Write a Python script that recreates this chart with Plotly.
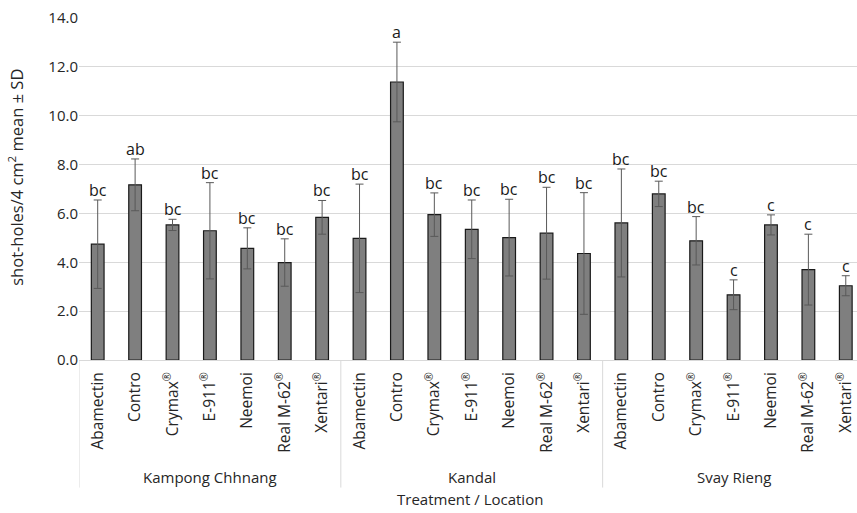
import plotly.graph_objects as go

locations = ["Kampong Chhnang", "Kandal", "Svay Rieng"]
treatments = ["Abamectin", "Contro", "Crymax<sup>®</sup>", "E-911<sup>®</sup>", "Neemoi",
              "Real M-62<sup>®</sup>", "Xentari<sup>®</sup>"]

means = [4.74, 7.17, 5.53, 5.29, 4.57, 3.99, 5.84,
         4.98, 11.38, 5.95, 5.35, 5.01, 5.19, 4.36,
         5.61, 6.80, 4.88, 2.67, 5.53, 3.70, 3.04]
sds = [1.81, 1.06, 0.23, 1.97, 0.84, 0.97, 0.69,
       2.22, 1.63, 0.89, 1.20, 1.57, 1.88, 2.49,
       2.21, 0.52, 0.99, 0.61, 0.41, 1.45, 0.41]
letters = ["bc", "ab", "bc", "bc", "bc", "bc", "bc",
           "bc", "a", "bc", "bc", "bc", "bc", "bc",
           "bc", "bc", "bc", "c", "c", "c", "c"]

n_t = len(treatments)
xpos = list(range(len(means)))
ticktext = treatments * len(locations)

FONT = "Open Sans"
TXT = "#262626"

fig = go.Figure()
fig.add_trace(go.Bar(
    x=xpos, y=means, width=0.34,
    marker=dict(color="#7f7f7f", line=dict(color="#1a1a1a", width=1.2)),
    error_y=dict(type="data", array=sds, visible=True, color="#595959", thickness=1, width=4),
    showlegend=False, hoverinfo="skip",
))

annotations = []
for x, m, s, l in zip(xpos, means, sds, letters):
    annotations.append(dict(x=x, y=m + s, xref="x", yref="y", text=l, showarrow=False,
                            yanchor="bottom", yshift=-3, font=dict(family=FONT, size=16, color="#1a1a1a")))
for i, loc in enumerate(locations):
    annotations.append(dict(x=i * n_t + (n_t - 1) / 2, y=-0.343, xref="x", yref="paper", text=loc,
                            showarrow=False, yanchor="middle", font=dict(family=FONT, size=15, color=TXT)))
annotations.append(dict(x=(470 - 79) / 778, y=-0.405, xref="paper", yref="paper", text="Treatment / Location",
                        showarrow=False, yanchor="middle", xanchor="center",
                        font=dict(family=FONT, size=15, color=TXT)))
annotations.append(dict(x=(16 - 79) / 778, y=(360.5 - 178) / 342.5, xref="paper", yref="paper",
                        text="shot-holes/4 cm<sup>2</sup> mean ± SD", textangle=-90, showarrow=False,
                        xanchor="center", yanchor="middle", font=dict(family=FONT, size=16.5, color=TXT)))

shapes = []
for i in range(len(locations)):
    xb = i * n_t - 0.5
    shapes.append(dict(type="line", xref="x", yref="paper", x0=xb, x1=xb, y0=0, y1=-0.373,
                       line=dict(color="#d9d9d9", width=1)))

fig.update_layout(
    width=857, height=513,
    margin=dict(l=79, r=0, t=18, b=153),
    plot_bgcolor="white", paper_bgcolor="white",
    annotations=annotations,
    shapes=shapes,
    font=dict(family=FONT, size=15, color=TXT),
    xaxis=dict(range=[-0.5, 20.3], tickmode="array", tickvals=xpos, ticktext=ticktext,
               tickangle=-90, showgrid=False, showline=True, linecolor="#d9d9d9",
               ticks="", tickfont=dict(family=FONT, size=15.5, color=TXT), zeroline=False,
               automargin=False, ticklabelstandoff=5),
    yaxis=dict(range=[0, 14], dtick=2, tickformat=".1f", showgrid=True, gridcolor="#d9d9d9",
               gridwidth=1, zeroline=False, showline=False, ticks="",
               tickfont=dict(family=FONT, size=15, color=TXT), automargin=False),
)

fig.write_html("out.html", config={"displayModeBar": False},
               post_script="document.body.style.margin='0';document.body.style.overflow='hidden';")
